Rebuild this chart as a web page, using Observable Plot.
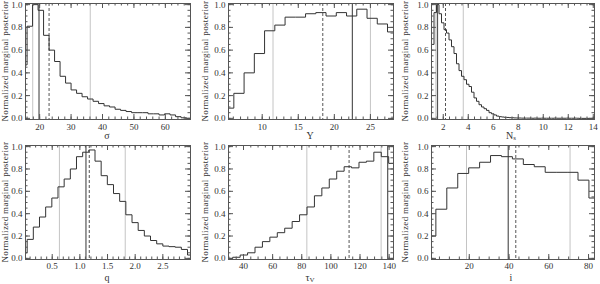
<!DOCTYPE html>
<html><head><meta charset="utf-8">
<script src="https://cdn.jsdelivr.net/npm/d3@7"></script>
<script src="https://cdn.jsdelivr.net/npm/@observablehq/plot@0.6"></script>
<style>
body{margin:0;background:#fff;}
#wrap{position:relative;width:600px;height:284px;font-family:"Liberation Serif","DejaVu Serif",serif;overflow:hidden;}
.panel{position:absolute;width:200px;height:142px;}
.xl{position:absolute;font-size:10px;color:#333;text-align:center;width:40px;line-height:9px;}
.xl sub{font-size:7px;vertical-align:-1px;line-height:0;}
.yl{position:absolute;font-size:9px;color:#333;text-align:center;width:130px;line-height:10px;height:10px;transform:rotate(-90deg);transform-origin:50% 50%;white-space:nowrap;letter-spacing:0.35px;}
</style></head><body><div id="wrap"></div>
<script>
// ---- data ----
const yTicks = [0, 0.2, 0.4, 0.6, 0.8, 1.0];
const yLabel = "Normalized marginal posterior";

const sigmaStart = 14.25, sigmaBin = 1.75;
const sigmaValues = [0.47,0.81,1.0,0.95,0.73,0.60,0.50,0.37,0.31,0.25,0.22,0.19,0.17,0.15,0.13,0.11,0.10,0.08,0.07,0.06,0.05,0.05,0.05,0.04,0.04,0.03,0.04,0.03,0.015,0.005,0.0];
const sigmaLines = {dotted:[17.8,36.1], dashed:[23.0], solid:[19.8]};
const sigmaTicks = [20,30,40,50,60];

const yStart = 4.65, yBin = 1.42;
const yValues = [0.09,0.22,0.40,0.57,0.77,0.82,0.89,0.89,0.92,0.93,0.90,0.93,0.90,0.96,0.88,0.83,0.76];
const yLines = {dotted:[11.5,25.0], dashed:[18.4], solid:[22.5]};
const yParTicks = [10,15,20,25];

const nsStart = 1.06, nsBin = 0.2;
const nsValues = [0.65,0.93,1.0,0.92,0.84,0.78,0.75,0.69,0.63,0.57,
 0.48,0.42,0.37,0.34,0.30,0.28,0.23,0.18,0.15,0.12,
 0.10,0.085,0.07,0.05,0.04,0.03,0.02,0.015,0.012,0.01,
 0.008,0.006,0.005,0.004,0.003,0.003,0.002,0.002,0.002,0.002,
 0.001,0.002,0.001,0.001,0.002,0.001,0.001,0.001,0.001,0.002,
 0.001,0.001,0.001,0.001,0.002,0.001,0.001,0.002,0.001,0.0,
 0.0,0.0,0.0,0.0,0.0];
const nsLines = {dotted:[1.41,3.6], dashed:[2.18], solid:[1.54]};
const nsTicks = [2,4,6,8,10,12,14];

const qStart = -0.0645, qBin = 0.1115;
const qValues = [0.05,0.17,0.28,0.37,0.46,0.54,0.64,0.71,0.80,0.91,0.95,0.97,0.87,0.74,0.66,0.58,0.51,0.39,0.32,0.25,0.20,0.16,0.13,0.11,0.105,0.10,0.08,0.03];
const qLines = {dotted:[0.63,1.82], dashed:[1.17], solid:[1.11]};
const qTicks = [0.5,1.0,1.5,2.0,2.5];

const tauStart = 27.5, tauBin = 5.1;
const tauValues = [0.0,0.01,0.03,0.05,0.10,0.15,0.19,0.23,0.27,0.33,0.39,0.46,0.56,0.63,0.71,0.78,0.82,0.81,0.86,0.87,0.95,0.91,0.85];
const tauLines = {dotted:[83.5,134.5], dashed:[112.5], solid:[139]};
const tauTicks = [40,60,80,100,120,140];

const incStart = -2.3, incBin = 5.5;
const incValues = [0.20,0.44,0.63,0.76,0.81,0.86,0.92,0.91,0.89,0.84,0.82,0.77,0.77,0.77,0.70,0.54];
const incLines = {dotted:[18.6,70.7], dashed:[43.4], solid:[39.6]};
const incTicks = [20,40,60,80];

// ---- layout ----
const W = 200, H = 142;
const panels = [
  {left:0,   top:0,   ml:25, mr:10, mt:3, mb:23, pad:4, domain:[15.5,68],   start:sigmaStart, bin:sigmaBin, values:sigmaValues, lines:sigmaLines, ticks:sigmaTicks, minor:2,   fmt:"d",   label:"σ", lx:107, ly:131},
  {left:200, top:0,   ml:28, mr:7,  mt:3, mb:23, pad:4, domain:[5.33,28.2], start:yStart, bin:yBin, values:yValues, lines:yLines, ticks:yParTicks, minor:1, fmt:"d", label:"Y", lx:310, ly:131},
  {left:400, top:0,   ml:31, mr:6,  mt:3, mb:23, pad:4, domain:[1.06,14.1], start:nsStart, bin:nsBin, values:nsValues, lines:nsLines, ticks:nsTicks, minor:0.5, fmt:"d", label:"N<sub>s</sub>", lx:511, ly:131},
  {left:0,   top:142, ml:25, mr:10, mt:3, mb:25, pad:3, domain:[0.017,3.0], start:qStart, bin:qBin, values:qValues, lines:qLines, ticks:qTicks, minor:0.1, fmt:".1f", label:"q", lx:107, ly:273},
  {left:200, top:142, ml:28, mr:7,  mt:3, mb:25, pad:3, domain:[29.7,143],  start:tauStart, bin:tauBin, values:tauValues, lines:tauLines, ticks:tauTicks, minor:5, fmt:"d", label:"τ<sub>V</sub>", lx:310, ly:273},
  {left:400, top:142, ml:31, mr:6,  mt:3, mb:25, pad:3, domain:[1,83],      start:incStart, bin:incBin, values:incValues, lines:incLines, ticks:incTicks, minor:5, fmt:"d", label:"i", lx:511, ly:273}
];

const wrap = document.getElementById("wrap");
const axisColor = "#555";

for (const p of panels) {
  const pts = p.values.map((v, i) => ({x: p.start + i * p.bin, y: v}));
  pts.push({x: p.start + p.values.length * p.bin, y: p.values[p.values.length - 1]});
  const ph = H - p.mt - p.mb, pw = W - p.ml - p.mr;
  const xMinor = d3.range(Math.ceil(p.domain[0] / p.minor) * p.minor, p.domain[1], p.minor);
  const yMinor = d3.range(0, 1.0001, 0.05);
  const chart = Plot.plot({
    width: W, height: H,
    marginLeft: p.ml, marginRight: p.mr, marginTop: p.mt, marginBottom: p.mb,
    x: {domain: p.domain},
    y: {domain: [-0.01, 1.01]},
    style: {fontFamily: '"Liberation Serif","DejaVu Serif",serif', fontSize: "9px", color: "#333", background: "transparent"},
    marks: [
      Plot.ruleX(p.lines.dotted, {stroke: "#c4c4c4", strokeWidth: 1}),
      Plot.ruleX(p.lines.dashed, {stroke: "#555", strokeWidth: 1, strokeDasharray: "3,2"}),
      Plot.ruleX(p.lines.solid, {stroke: "#555", strokeWidth: 1.2}),
      Plot.lineY(pts, {x: "x", y: "y", curve: "step-after", stroke: "#333", strokeWidth: 1, clip: true}),
      // inward ticks on all four sides
      Plot.tickX(p.ticks, {x: d => d, insetTop: ph - 5, stroke: axisColor}),
      Plot.tickX(p.ticks, {x: d => d, insetBottom: ph - 5, stroke: axisColor}),
      Plot.tickX(xMinor, {x: d => d, insetTop: ph - 2.5, stroke: axisColor}),
      Plot.tickX(xMinor, {x: d => d, insetBottom: ph - 2.5, stroke: axisColor}),
      Plot.tickY(yTicks, {y: d => d, insetRight: pw - 5, stroke: axisColor}),
      Plot.tickY(yTicks, {y: d => d, insetLeft: pw - 5, stroke: axisColor}),
      Plot.tickY(yMinor, {y: d => d, insetRight: pw - 2.5, stroke: axisColor}),
      Plot.tickY(yMinor, {y: d => d, insetLeft: pw - 2.5, stroke: axisColor}),
      Plot.axisX({ticks: p.ticks, tickSize: 0, tickPadding: p.pad, tickFormat: p.fmt, label: null}),
      Plot.axisY({ticks: yTicks, tickSize: 0, tickPadding: 3, tickFormat: ".1f", label: null}),
      Plot.frame({stroke: axisColor})
    ]
  });
  const div = document.createElement("div");
  div.className = "panel";
  div.style.left = p.left + "px";
  div.style.top = p.top + "px";
  div.appendChild(chart);
  wrap.appendChild(div);
  // x-axis title
  const lab = document.createElement("div");
  lab.className = "xl";
  lab.style.left = (p.lx - 20) + "px";
  lab.style.top = p.ly + "px";
  lab.innerHTML = p.label;
  wrap.appendChild(lab);
  // y-axis title (rotated)
  const yl = document.createElement("div");
  yl.className = "yl";
  const cy = p.top + p.mt + (H - p.mt - p.mb) / 2;
  const cx = p.left + 5;
  yl.style.left = (cx - 65) + "px";
  yl.style.top = (cy - 5) + "px";
  yl.textContent = yLabel;
  wrap.appendChild(yl);
}
</script></body></html>
